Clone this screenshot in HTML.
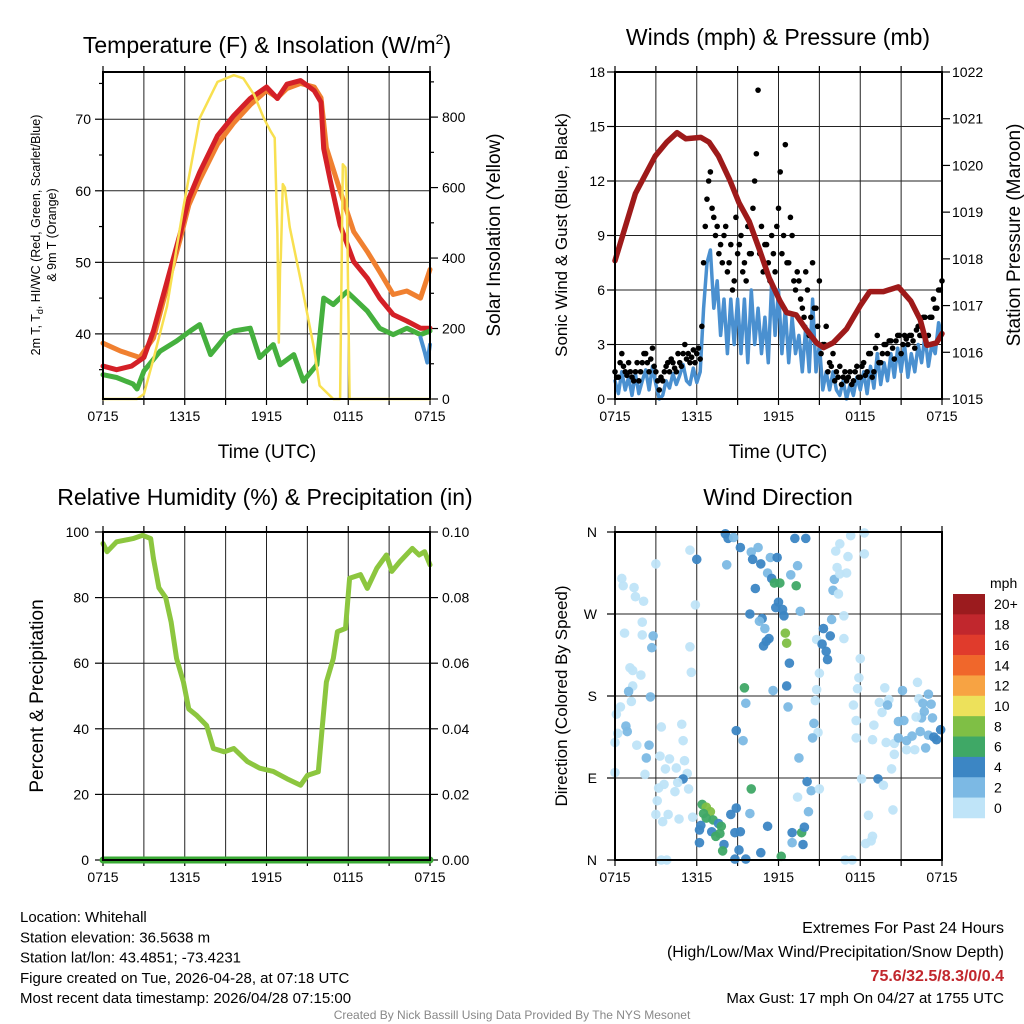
<!DOCTYPE html>
<html><head><meta charset="utf-8"><style>
body{margin:0;background:#fff;font-family:"Liberation Sans",sans-serif}
svg{display:block}
</style></head><body>
<svg id="c" width="1024" height="1024" xmlns="http://www.w3.org/2000/svg" font-family="Liberation Sans, sans-serif"></svg>
<script>
// ---------- data ----------
const tickTimes=["0715","1315","1915","0115","0715"];
const redHours=[0,1,2.1,3,3.7,4.7,5.7,6.3,7.1,8.4,9.6,10.8,12.0,12.8,13.5,14.5,15.5,16,16.2,16.7,17.4,18.4,19.4,20.3,21.3,22.3,23.3,24];
const tempRed=[35.5,35,35.5,36.7,40.4,47.3,54.3,58.9,62.6,67.7,70.5,72.9,74.5,72.9,74.9,75.4,74,72.4,65.9,61.3,55.2,50.1,47.8,45,42.7,41.8,40.8,40.8];
const orangeHours=[0,1.3,2.7,3.7,4.7,5.7,6.3,7.1,8.4,9.6,10.8,12,12.8,13.5,14.5,15.5,16,16.4,17.4,18.4,19.4,20.3,21.3,22.3,23.3,24];
const tempOrange=[38.7,37.6,36.7,39.4,46.5,53.5,58,61.5,66.5,69.5,72,74,73,74.3,75,74.5,73,66,60,54.3,51.5,48.7,45.5,46,45,49];
const dewHours=[0,1,2.2,2.5,3,4.2,5.4,6.4,7.1,7.9,9.1,9.6,10.8,11.5,12.5,13,14,14.7,15.7,16.2,16.9,17.9,18.4,19.4,20.3,21.3,22.3,23.3,24];
const dewGreen=[34.3,33.9,33,32.3,34.8,37.6,39,40.4,41.3,37.1,39.9,40.4,40.8,36.7,38.5,35.7,37.1,33.4,35.7,45,44.1,45.9,45,43.2,40.8,39.9,40.8,39.9,40.4];
const wcHours=[23.3,23.6,23.8,24];
const windChill=[39.5,37.5,36,38.5];
const solarHours=[0,2.5,3,3.7,4.7,5.9,7.1,8.4,9.6,10.3,11.1,11.8,12.3,12.6,12.8,12.9,13,13.05,13.2,13.35,13.7,14.5,15.5,15.9,16.9,17.4,17.6,17.8,17.9,18.1,24];
const solarVals=[0,0,14,113,263,544,797,900,919,910,863,797,760,741,469,160,375,400,610,600,488,338,141,38,0,0,666,657,560,0,0];
const windSpeed=[1,0.3,1.5,0.5,1.2,0.2,1.4,0.3,1,1.6,0.5,1.8,0.8,0,0.2,1,0.6,1.4,0.8,1.3,1.9,1,0.8,1.7,0.9,1.5,5,7.5,8.2,5,6.5,3.5,5.5,2.5,5.5,3,5.5,2.5,5.5,2,6,3,5,2.5,4.5,2,6.5,3.5,6,2.5,5,2,4.5,2.5,3.5,1.5,4,1.5,5.5,1.5,3,0.5,1.5,0.5,1.5,0.5,0.2,1,0,0.8,0.2,1.2,0.5,1.5,0.3,1.8,0.6,2.5,0.8,2,1,2.5,1.2,2.8,1.5,3,1.2,2.5,1.5,3,2,3.5,1.8,3,2.5,4.2,3.5];
const gustA=[1.5,1.2,2.5,1.5,2,1.2,1.5,1,2,2.5,1.5,2.8,1.5,0.5,1,1.8,1.5,2,1.5,2,2.5,2.2,2,2.7,2.5,2.2,7.5,11,12.5,10,9.5,8.5,9,7,8.5,6.5,8,9,7.5,9.5,8,12,17,9.5,8.5,7.5,9,7,10.5,8,14,7.5,9,6,6.5,5,7,3.5,7.5,5,6.5,3,4,2,2.5,1.5,1.8,1.2,1,1.5,1,1.8,1.2,2,1.5,2.5,1.5,3.5,2,3,2.5,3.2,2.2,3.5,2.5,3.5,3,3.5,2.8,4,3.5,4.5,3.5,4.5,5,6,6.5];
const gustB=[1.2,2,1.8,1.3,1.5,1,2,1.5,2.5,2,2.2,1.8,1,1.2,1.5,2,2.2,1.7,2.5,1.8,3,2.5,2.3,2,2.8,4,9.5,12,10.5,9,8,7.5,9.5,7.5,6,10,8.5,7,6.5,8,10.5,13.5,8,7,8.5,6.5,8,9.5,12.5,9,7.5,10,6.5,7,5.5,4.5,6,4.5,5,4,2.5,3,1.5,1.8,1,1.2,0.8,1.5,1.2,0.8,1.5,1.2,1.8,1.3,2.5,1.2,2.8,2,2.5,3,3.2,2.8,3.2,3.5,3,3.3,3.5,3.2,3.8,3.5,4.5,3,4.5,5.5,5,6];
const pressHours=[0,1.5,2.95,3.8,4.55,5.2,6.3,6.9,7.6,8.4,9.1,9.85,10.6,11.3,12.1,12.6,13.3,14.0,14.8,15.3,16,17,18,18.7,19.7,20.8,21.7,22.4,22.9,23.6,24];
const pressure=[1017.96,1019.4,1020.2,1020.5,1020.7,1020.57,1020.6,1020.5,1020.2,1019.7,1019.2,1018.8,1018.2,1017.6,1017.1,1016.85,1016.8,1016.5,1016.2,1016.1,1016.2,1016.5,1017.0,1017.3,1017.3,1017.4,1017.1,1016.7,1016.15,1016.2,1016.4];
const rhHours=[0,0.3,1,2.2,2.9,3.5,3.7,4.1,4.6,5,5.4,5.9,6.3,6.9,7.6,8.1,8.9,9.6,10.6,11.5,12.5,13.5,14.5,15,15.8,16.1,16.4,16.9,17.2,17.8,18.1,18.9,19.4,20.1,20.8,21.2,21.8,22.7,23.2,23.6,24];
const humidity=[96.5,94,97,98,99,98,92,83,80,72.6,61.4,54.3,46,44,41,34,33,34,30,28,27,24.8,22.8,25.8,26.9,41,54.3,61.4,69.6,70.6,85.9,87,82.8,89,93,88,91,95,93,94,90];
const precip=[0,0,0,0,0,0,0,0,0,0,0,0,0,0,0,0,0,0,0,0,0,0,0,0,0];
const dirHours=[0.5,0.6,1.4,1.5,2.1,3.0,2.0,0.7,2.0,2.8,2.7,1.1,1.3,1.9,1.3,1.0,2.6,1.2,0.4,0.1,0.8,0.9,0.2,0.0,1.6,2.5,2.3,0.0,2.2,3.4,4.9,5.0,3.3,4.0,3.7,4.5,5.1,5.3,5.0,4.6,3.6,3.2,4.4,5.4,3.1,3.0,3.5,3.9,4.7,5.7,3.4,3.8,5.5,6.0,5.9,5.5,5.6,
6.4,6.7,7.0,6.5,6.7,7.2,7.6,7.8,6.3,6.2,7.1,7.4,7.7,6.2,8.0,7.9,8.5,8.9,8.8,9.2,9.9,10.0,9.1,8.8,9.6,10.7,11.2,12.2,13.0,13.7,13.9,13.8,13.0,13.4,14.1,14.4,14.2,15.0,
8.1,8.3,8.7,8.2,9.2,10.0,10.5,10.1,10.7,11.4,11.9,11.2,11.5,11.7,12.1,13.3,12.9,13.4,13.2,14.0,10.3,12.0,11.8,12.3,12.4,13.6,9.9,10.8,10.6,11.0,11.3,11.1,10.9,12.5,12.6,12.8,12.6,11.6,12.7,9.5,9.6,8.9,9.4,13.5,14.6,14.9,14.5,14.8,14.7,15.0,
15.3,15.8,14.8,15.2,15.5,15.6,15.9,16.0,16.4,16.1,16.5,17.0,16.3,17.1,16.2,16.5,17.3,18.3,18.3,16.8,16.8,18.0,17.9,17.8,
17.5,17.7,17.7,18.1,19.3,19.7,20.4,18.6,18.9,18.4,18.8,16.9,17.4,19.0,18.9,19.8,19.4,19.6,20.1,20.0,19.9,20.5,20.5,20.3,20.8,21.2,20.8,21.4,21.4,22.0,22.8,21.1,22.2,22.3,22.6,23.0,23.2,22.7,23.3,22.5,22.1,21.8,22.4,23.0,23.4,23.6,23.9];
const dirDeg=[309,301,299,289,284,325,261,249,247,246,233,211,208,203,191,185,179,174,168,160,147,141,139,129,126,126,112,96,94,146,149,131,114,111,100,101,109,95,89,85,83,79,75,78,65,50,42,50,45,47,0,0,340,330,280,234,206,
61,58,53,51,46,44,40,37,38,33,31,26,29,19,17,10,50,57,30,31,51,78,11,1,1,8,37,4,30,30,36,17,19,69,86,76,53,78,
358,353,354,324,343,338,343,330,325,332,332,315,309,304,304,301,313,323,353,353,298,283,277,275,268,273,270,265,262,254,243,240,235,249,238,216,191,186,168,189,172,142,131,112,150,140,134,187,175,205,
254,246,242,237,229,220,264,296,292,308,314,315,321,333,339,347,356,359,336,268,243,221,200,188,
170,153,134,89,89,82,55,49,26,18,21,0,0,148,132,189,173,162,176,170,129,128,116,100,152,153,134,131,121,121,123,186,195,177,172,182,171,163,156,156,157,136,141,137,135,132,143];
const dirSpeed=[1,1,1,1,1,1,1,1,1,3,3,1,1,1,1,3,3,1,1,1,3,3,1,1,1,3,3,1,1,1,1,1,1,1,1,1,1,1,5,1,1,1,1,1,1,1,1,1,1,1,1,1,1,5,1,1,1,
7,9,9,7,7,7,5,7,5,5,5,7,7,5,5,7,5,5,5,5,3,7,5,5,5,5,5,7,5,7,5,5,3,1,5,3,3,1,
5,5,3,3,5,3,3,5,5,3,5,3,5,7,7,7,3,3,5,5,5,5,5,5,5,3,5,5,3,3,5,5,5,9,9,5,5,3,3,7,3,5,3,3,3,1,3,1,1,1,
5,5,1,5,5,5,3,3,1,3,1,1,1,1,1,1,1,1,1,1,1,1,1,1,
1,1,1,1,5,1,1,1,1,1,1,1,1,1,1,1,1,1,1,3,1,1,1,1,3,3,3,3,1,1,3,3,1,1,3,3,3,3,3,3,1,3,3,3,5,5,5];
const barLabels=["20+","18","16","14","12","10","8","6","4","2","0"];
const barColors=["#9b1b1e","#c1272d","#e03b2c","#f0672b","#f7a343","#ede15b","#7fbf45","#3fa866","#3c86c4","#7cb9e4","#bfe4f8"];

// ---------- helpers ----------
const svg=document.getElementById('c');const NS="http://www.w3.org/2000/svg";
function mk(tag,at,parent){const e=document.createElementNS(NS,tag);for(const k in at)e.setAttribute(k,at[k]);(parent||svg).appendChild(e);return e;}
function txt(s,x,y,size,anchor,parent,extra){const e=mk('text',Object.assign({x:x,y:y,'font-size':size,'text-anchor':anchor||'middle',fill:'#000'},extra||{}),parent);e.textContent=s;return e;}
function scale(d0,d1,r0,r1){return v=>r0+(v-d0)/(d1-d0)*(r1-r0);}
function line(pts,color,w,parent){return mk('polyline',{points:pts.map(p=>p[0].toFixed(1)+','+p[1].toFixed(1)).join(' '),fill:'none',stroke:color,'stroke-width':w,'stroke-linejoin':'round','stroke-linecap':'round'},parent);}

function frame(L,T,R,B,name){
  const g=mk('g',{});
  
  
  for(let i=1;i<8;i++){const x=L+(R-L)*i/8;mk('line',{x1:x,y1:T,x2:x,y2:B,stroke:'#222','stroke-width':1},g);}
  for(let i=0;i<=8;i++){const x=L+(R-L)*i/8;mk('line',{x1:x,y1:B,x2:x,y2:B+6,stroke:'#000','stroke-width':1.2},g);mk('line',{x1:x,y1:T,x2:x,y2:T-6,stroke:'#000','stroke-width':1.2},g);}
  const xs=scale(0,24,L,R);
  tickTimes.forEach((t,i)=>{const e=txt(t,xs(i*6),B+22,14,'middle',g);});
  return g;
}
function border(L,T,R,B){const r=mk('rect',{x:L,y:T,width:R-L,height:B-T,fill:'none',stroke:'#000','stroke-width':2});}
function hgrid(L,R,y,g){mk('line',{x1:L,y1:y,x2:R,y2:y,stroke:'#222','stroke-width':1},g);}
function yTick(x,y,len,g){mk('line',{x1:x,y1:y,x2:x+len,y2:y,stroke:'#000','stroke-width':1.2},g);}

// ---------- Panel 1: temperature ----------
(function(){
  const L=103,T=72,R=430,B=399;
  const g=frame(L,T,R,B,'temperature');
  const xs=scale(0,24,L,R), ys=scale(30.9,76.6,B,T), ysr=scale(0,928,B,T);
  [40,50,60,70].forEach(v=>{hgrid(L,R,ys(v),g);yTick(L,ys(v),-8,g);const e=txt(String(v),L-12,ys(v)+5,14,'end',g);});
  [35,45,55,65,75].forEach(v=>yTick(L,ys(v),-4,g));
  [0,200,400,600,800].forEach(v=>{yTick(R,ysr(v),8,g);const e=txt(String(v),R+12,ysr(v)+5,14,'start',g);});
  [100,300,500,700,900].forEach(v=>yTick(R,ysr(v),4,g));
  const o=line(tempOrange.map((v,i)=>[xs(orangeHours[i]),ys(v)]),'#f08030',5);
  
  const r=line(tempRed.map((v,i)=>[xs(redHours[i]),ys(v)]),'#d42027',5);
  
  const d=line(dewGreen.map((v,i)=>[xs(dewHours[i]),ys(v)]),'#45b03e',5);
  
  const wc=line(windChill.map((v,i)=>[xs(wcHours[i]),ys(v)]),'#4a90d0',4);
  
  const solar=line(solarHours.map((h,i)=>[xs(h),ysr(solarVals[i])]),'#f8e050',2.5);
  
  border(L,T,R,B);
  const t=mk('text',{x:267,y:53,'font-size':23,'text-anchor':'middle'});t.innerHTML='Temperature (F) &amp; Insolation (W/m<tspan dy="-9" font-size="14">2</tspan><tspan dy="9">)</tspan>';
  
  const xt=txt('Time (UTC)',267,458,19);
  const yl=mk('text',{'font-size':12.5,'text-anchor':'middle',transform:'translate(40,235) rotate(-90)'});
  yl.innerHTML='2m T, T<tspan dy="3" font-size="9">d</tspan><tspan dy="-3">, HI/WC (Red, Green, Scarlet/Blue)</tspan>';
  
  const yl2=txt('& 9m T (Orange)',0,0,12.5,'middle',null,{transform:'translate(56,235) rotate(-90)'});
  
  const yr=txt('Solar Insolation (Yellow)',0,0,19,'middle',null,{transform:'translate(500,235) rotate(-90)'});
  
})();

// ---------- Panel 2: winds ----------
(function(){
  const L=615,T=72,R=942,B=399;
  const g=frame(L,T,R,B,'winds');
  const xs=scale(0,24,L,R), ys=scale(0,18,B,T), yp=scale(1015,1022,B,T);
  [0,3,6,9,12,15,18].forEach(v=>{if(v>0&&v<18)hgrid(L,R,ys(v),g);yTick(L,ys(v),-8,g);const e=txt(String(v),L-10,ys(v)+5,14,'end',g);});
  [1015,1016,1017,1018,1019,1020,1021,1022].forEach(v=>{yTick(R,yp(v),8,g);const e=txt(String(v),R+10,yp(v)+5,14,'start',g);});
  const w=line(windSpeed.map((v,i)=>[xs(i*24/(windSpeed.length-1)),ys(v)]),'#4a90d0',3.5);
  
  gustA.forEach((v,i)=>{
    const c=mk('circle',{cx:xs(i*0.25),cy:ys(v),r:2.8,fill:'#000'});
    
    
  });
  gustB.forEach((v,i)=>{
    const c=mk('circle',{cx:xs(i*0.25+0.125),cy:ys(v),r:2.8,fill:'#000'});
    
    
  });
  const p=line(pressure.map((v,i)=>[xs(pressHours[i]),yp(v)]),'#9e1a1a',5.5);
  
  border(L,T,R,B);
  const t=txt('Winds (mph) & Pressure (mb)',778,45,23);
  const xt=txt('Time (UTC)',778,458,19);
  const yl=txt('Sonic Wind & Gust (Blue, Black)',0,0,17,'middle',null,{transform:'translate(567,235) rotate(-90)'});
  const yr=txt('Station Pressure (Maroon)',0,0,19,'middle',null,{transform:'translate(1020,235) rotate(-90)'});
})();

// ---------- Panel 3: humidity ----------
(function(){
  const L=103,T=532,R=430,B=860;
  const g=frame(L,T,R,B,'humidity');
  const xs=scale(0,24,L,R), ys=scale(0,100,B,T), yr=scale(0,0.1,B,T);
  [0,20,40,60,80,100].forEach(v=>{if(v>0&&v<100)hgrid(L,R,ys(v),g);yTick(L,ys(v),-8,g);const e=txt(String(v),L-14,ys(v)+5,14,'end',g);});
  [0,0.02,0.04,0.06,0.08,0.10].forEach(v=>{yTick(R,yr(v),8,g);const e=txt(v.toFixed(2),R+12,yr(v)+5,14,'start',g);});
  const h=line(humidity.map((v,i)=>[xs(rhHours[i]),ys(v)]),'#8cc63f',5);
  
  const pr=line(precip.map((v,i)=>[xs(i),yr(v)]),'#3aaa35',7);
  
  border(L,T,R,B);
  const t=txt('Relative Humidity (%) & Precipitation (in)',265,505,23);
  const yl=txt('Percent & Precipitation',0,0,19,'middle',null,{transform:'translate(43,696) rotate(-90)'});
})();

// ---------- Panel 4: wind direction ----------
(function(){
  const L=615,T=532,R=942,B=860;
  const g=frame(L,T,R,B,'wind-direction');
  const xs=scale(0,24,L,R), ys=scale(0,360,B,T);
  ['N','E','S','W','N'].forEach((s,i)=>{const v=i*90;if(i>0&&i<4)hgrid(L,R,ys(v),g);yTick(L,ys(v),-8,g);const e=txt(s,L-18,ys(v)+5,14,'end',g);});
  function col(s){const idx=Math.min(10,Math.floor(s/2));return barColors[10-idx];}
  dirHours.forEach((h,i)=>{
    const c=mk('circle',{cx:xs(h),cy:ys(dirDeg[i]),r:4.8,fill:col(dirSpeed[i]),'fill-opacity':0.95});
    
    
  });
  border(L,T,R,B);
  const t=txt('Wind Direction',778,505,23);
  const yl=txt('Direction (Colored By Speed)',0,0,17,'middle',null,{transform:'translate(567,696) rotate(-90)'});
  const cb=mk('g',{});
  const top=594,hh=20.36;
  barColors.forEach((c,i)=>{mk('rect',{x:953,y:top+i*hh,width:32,height:hh+0.3,fill:c},cb);
    const e=txt(barLabels[i],994,top+i*hh+hh/2+5,14,'start',cb);});
  const u=txt('mph',990,588,14,'start',cb);
})();

// ---------- footer text ----------
(function(){
  const lines=['Location: Whitehall','Station elevation: 36.5638 m','Station lat/lon: 43.4851; -73.4231','Figure created on Tue, 2026-04-28, at 07:18 UTC','Most recent data timestamp: 2026/04/28 07:15:00'];
  lines.forEach((s,i)=>{const e=txt(s,20,922+i*20.3,15,'start');});
  const a=txt('Extremes For Past 24 Hours',1004,933,16,'end');
  const b=txt('(High/Low/Max Wind/Precipitation/Snow Depth)',1004,957,16,'end');
  const c=txt('75.6/32.5/8.3/0/0.4',1004,981,16,'end',null,{fill:'#c1272d','font-weight':'bold'});
  const d=txt('Max Gust: 17 mph On 04/27 at 1755 UTC',1004,1003,15,'end');
  const e=txt('Created By Nick Bassill Using Data Provided By The NYS Mesonet',512,1019,12,'middle',null,{fill:'#888'});
})();
</script>
</body></html>
